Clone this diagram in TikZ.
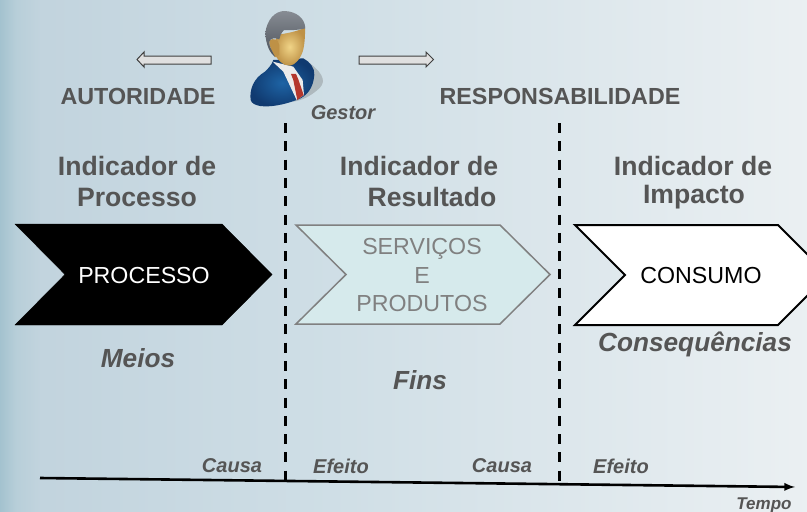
\documentclass[tikz,border=0pt]{standalone}
\usepackage{fontspec}
\setmainfont{Liberation Sans}
\usetikzlibrary{positioning}
\pgfdeclarehorizontalshading{fundo}{100bp}{rgb(0bp)=(.64,.76,.81); rgb(25bp)=(.64,.76,.81); rgb(26bp)=(.72,.81,.85); rgb(27.5bp)=(.76,.83,.87); rgb(45bp)=(.81,.87,.90); rgb(75bp)=(.92,.94,.95); rgb(100bp)=(.92,.94,.95)}
\definecolor{textogris}{RGB}{85,85,85}
\definecolor{fundoservico}{RGB}{214,234,236}
\definecolor{pale}{RGB}{30,100,165}
\definecolor{paletoescuro}{RGB}{16,58,112}
\definecolor{rosto}{RGB}{240,212,135}
\definecolor{rostoescuro}{RGB}{190,145,70}
\definecolor{cabelo}{RGB}{95,102,112}
\definecolor{gravata}{RGB}{180,55,45}
\tikzset{
	titulo/.style={text=textogris,font=\fontsize{26.6}{27}\selectfont\bfseries},
	papel/.style={text=textogris,font=\fontsize{23.3}{24}\selectfont\bfseries},
	nota/.style={text=textogris,font=\fontsize{20}{20}\selectfont\bfseries\itshape},
	grande/.style={text=textogris,font=\fontsize{26.2}{27}\selectfont\bfseries\itshape},
	caixa/.style={font=\fontsize{23.2}{23}\selectfont},
	seta/.style={fill=black!12,draw=black!75,line width=1pt,line join=miter},
	divisao/.style={black,line width=3pt,dash pattern=on 10pt off 8.3pt}
}
\begin{document}
\begin{tikzpicture}[x=1pt,y=-1pt]
	\useasboundingbox (0,0) rectangle (807,512);
	\clip (0,0) rectangle (807,512);
	\shade[shading=fundo] (0,0) rectangle (807,512);
	\filldraw[seta] (211,56) -- (144,56) -- (144,52) -- (137,59.5) -- (144,67) -- (144,64) -- (211,64) -- cycle;
	\filldraw[seta] (359,56) -- (426,56) -- (426,52) -- (433.5,59.5) -- (426,67) -- (426,64) -- (359,64) -- cycle;
	\begin{scope}[xshift=120pt,x=.3333pt,y=-.3333pt]
		\fill[black!60,opacity=.3] (570,190) .. controls (615,225) and (620,250) .. (590,272) .. controls (570,288) and (550,300) .. (520,305) -- cycle;
		\shade[inner color=pale,outer color=paletoescuro] (392,300) .. controls (388,270) and (400,235) .. (435,215) .. controls (445,205) and (455,195) .. (460,180) -- (550,175) .. controls (570,185) and (585,205) .. (583,225) .. controls (580,265) and (560,290) .. (530,300) .. controls (490,315) and (450,322) .. (420,318) .. controls (405,315) and (395,310) .. (392,300) -- cycle;
		\fill[white!92!black] (458,185) -- (520,200) -- (548,240) -- (552,285) -- (530,300) -- (490,215) -- cycle;
		\fill[gravata] (513,222) -- (528,222) -- (535,238) -- (551,285) -- (532,300) -- (520,240) -- cycle;
		\shade[inner color=rosto,outer color=rostoescuro] (470,105) .. controls (500,100) and (530,95) .. (555,83) .. controls (556,110) and (553,140) .. (548,155) .. controls (540,178) and (525,195) .. (510,197) .. controls (490,198) and (470,180) .. (462,155) -- cycle;
		\fill[rostoescuro] (448,122) .. controls (460,112) and (475,118) .. (478,135) -- (478,165) -- (465,172) .. controls (455,150) and (447,140) .. (448,122) -- cycle;
		\shade[top color=cabelo!75,bottom color=cabelo!80!black] (436,100) .. controls (440,60) and (465,32) .. (495,33) .. controls (530,35) and (555,55) .. (556,85) .. controls (530,92) and (505,90) .. (492,90) .. controls (482,100) and (480,110) .. (478,118) .. controls (465,112) and (450,115) .. (448,125) .. controls (447,140) and (455,150) .. (465,170) .. controls (450,160) and (438,135) .. (436,100) -- cycle;
	\end{scope}
	\coordinate (inicio) at (40,478);
	\coordinate (fim) at (795,487);
	\coordinate (corte1) at (285,481);
	\coordinate (corte2) at (559,484);
	\coordinate (topo1) at (285,123);
	\coordinate (topo2) at (559,123);
	\draw[divisao] (topo1) -- (corte1);
	\draw[divisao] (topo2) -- (corte2);
	\draw[black,line width=2.6pt,-latex] (inicio) -- (fim);
	\filldraw[fill=black,draw=black] (15,224) -- (222,224) -- (272,274.5) -- (222,325) -- (15,325) -- (65,274.5) -- cycle;
	\filldraw[fill=fundoservico,draw=black!50,line width=1.5pt] (296,225) -- (500,225) -- (550,274.5) -- (500,324) -- (296,324) -- (346,274.5) -- cycle;
	\filldraw[fill=white,draw=black,line width=2pt] (575,225) -- (778,225) -- (828,275) -- (778,325) -- (575,325) -- (625,275) -- cycle;
	\node[caixa,text=white] (processo) at (144,276) {PROCESSO};
	\node[caixa,text=black!50] (servicos) at (422,249) {SERVIÇOS};
	\node[caixa,text=black!50] (e) at (422,276) {E};
	\node[caixa,text=black!50] (produtos) at (422,304) {PRODUTOS};
	\node[caixa,text=black] (consumo) at (701,276) {CONSUMO};
	\node[papel] (autoridade) at (138,96) {AUTORIDADE};
	\node[papel] (responsabilidade) at (560,96) {RESPONSABILIDADE};
	\node[nota] (gestor) at (343,113) {Gestor};
	\node[titulo] (ind1) at (137,166) {Indicador de};
	\node[titulo] (nome1) at (137,197) {Processo};
	\node[titulo] (ind2) at (419,166) {Indicador de};
	\node[titulo] (nome2) at (432,197) {Resultado};
	\node[titulo] (ind3) at (693,166) {Indicador de};
	\node[titulo] (nome3) at (694,197) {Impacto};
	\node[grande] (meios) at (138,358) {Meios};
	\node[grande] (fins) at (420,380) {Fins};
	\node[grande] (consequencias) at (695,344) {Consequências};
	\node[nota] (causa1) at (232,466) {Causa};
	\node[nota] (efeito1) at (341,466) {Efeito};
	\node[nota] (causa2) at (502,466) {Causa};
	\node[nota] (efeito2) at (621,466) {Efeito};
	\node[nota,font=\fontsize{17}{17}\selectfont\bfseries\itshape] (tempo) at (764,505) {Tempo};
\end{tikzpicture}
\end{document}
